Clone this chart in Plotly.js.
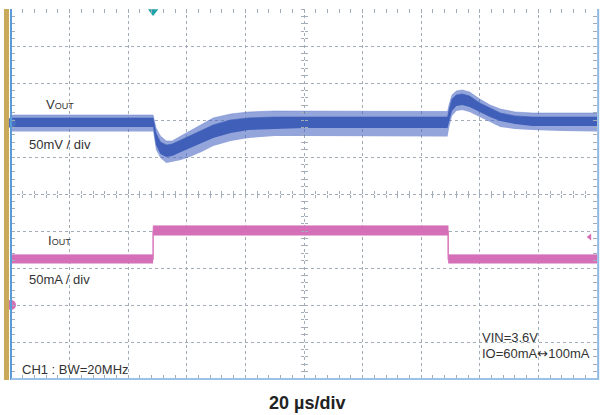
<!DOCTYPE html>
<html><head><meta charset="utf-8">
<script src="https://cdn.plot.ly/plotly-3.0.1.min.js"></script>
<style>html,body{margin:0;padding:0;background:#fff}#chart{width:601px;height:415px}</style>
</head><body><div id="chart"></div>
<script>
// ---- data ----
// time axis: 20 us/div, 10 divisions
const vTime = [0,48.5,49.5,51,53,55,58,61,65,69,75,81,90,100,120,140,149,149.5,150.5,152,154,156.5,160,163.5,167,172,178,188,200];
// VOUT (AC, mV relative to channel-1 marker), envelope of the ripple band
const vOuterTop    = [10.8,10.8,-6.8,-17.6,-24.3,-24.3,-17.6,-10.8,-1.4,6.8,12.2,14.9,16.2,16.2,16.2,15.5,15.5,24.3,37.8,43.2,44.6,41.9,32.4,24.3,18.9,14.9,13.5,13.5,13.5];
const vOuterBottom = [-11.5,-11.5,-36.5,-47.3,-54.1,-52.7,-50.0,-45.9,-39.2,-31.1,-24.3,-20.3,-17.6,-17.6,-17.6,-18.2,-18.2,-6.8,9.5,16.2,17.6,14.9,8.1,1.4,-5.4,-8.1,-9.5,-10.8,-11.5];
const vCoreTop     = [6.8,6.8,-13.5,-25.7,-29.7,-28.4,-23.0,-17.6,-9.5,-2.7,4.1,6.8,8.1,8.1,8.1,8.1,8.1,17.6,32.4,37.8,39.2,36.5,27.0,20.3,13.5,9.5,8.1,8.1,8.1];
const vCoreBottom  = [-5.4,-5.4,-29.7,-41.9,-45.9,-44.6,-39.2,-33.8,-27.0,-20.3,-13.5,-9.5,-8.1,-6.8,-6.8,-6.8,-6.8,1.4,16.2,23.0,24.3,21.6,14.9,8.1,2.7,-1.4,-4.1,-4.1,-4.1];
// IOUT (mA)
const iTime  = [0,48.5,48.5,149.2,149.2,200];
const iUpper = [68,68,107,107,68,68];
const iLower = [56,56,94,94,56,56];
const iMid   = [62,62,100,100,62,62];
// markers
const ch1Ground = [0];      // mV
const ch2Ground = [0];      // mA
const triggerTime = [48.5]; // us
const triggerLevel = [92];  // mA

// ---- scales ----
const V_PER_DIV = 50, I_PER_DIV = 50;
const V_OFFSET_DIV = 1.92, I_OFFSET_DIV = -3.0;
const vRange = [(-5 - V_OFFSET_DIV) * V_PER_DIV, (5 - V_OFFSET_DIV) * V_PER_DIV];
const iRange = [(-5 - I_OFFSET_DIV) * I_PER_DIV, (5 - I_OFFSET_DIV) * I_PER_DIV];

const VBLUE = '#3f5fb8', VLIGHT = 'rgba(75,105,195,0.6)', PINK = '#d46fb8';
const GRID = '#a3adba';

const traces = [
  {x: vTime, y: vOuterBottom, yaxis: 'y2', mode: 'lines', line: {width: 0, color: VLIGHT}, hoverinfo: 'skip'},
  {x: vTime, y: vOuterTop, yaxis: 'y2', mode: 'lines', line: {width: 0.6, color: VLIGHT}, fill: 'tonexty', fillcolor: VLIGHT, hoverinfo: 'skip'},
  {x: vTime, y: vCoreBottom, yaxis: 'y2', mode: 'lines', line: {width: 0, color: VBLUE}, hoverinfo: 'skip'},
  {x: vTime, y: vCoreTop, yaxis: 'y2', mode: 'lines', line: {width: 0.6, color: VBLUE}, fill: 'tonexty', fillcolor: VBLUE, hoverinfo: 'skip'},
  {x: iTime, y: iLower, yaxis: 'y3', mode: 'lines', line: {width: 0, color: PINK}, hoverinfo: 'skip'},
  {x: iTime, y: iUpper, yaxis: 'y3', mode: 'lines', line: {width: 0.6, color: PINK}, fill: 'tonexty', fillcolor: PINK, hoverinfo: 'skip'},
  {x: iTime, y: iMid, yaxis: 'y3', mode: 'lines', line: {width: 1.2, color: PINK}, hoverinfo: 'skip'},
  {x: [0], y: ch1Ground, yaxis: 'y2', mode: 'markers', cliponaxis: false, marker: {symbol: 'circle', size: 10, color: '#4a70c4'}},
  {x: [0], y: ch2Ground, yaxis: 'y3', mode: 'markers', cliponaxis: false, marker: {symbol: 'circle', size: 10, color: PINK}},
  {x: [197.5], y: triggerLevel, yaxis: 'y3', mode: 'markers', cliponaxis: false, marker: {symbol: 'triangle-left', size: 6, color: PINK}},
  {x: triggerTime, y: [4.93], yaxis: 'y', mode: 'markers', cliponaxis: false, marker: {symbol: 'triangle-down', size: 9, color: '#1fa3a8'}},
  // empty traces to register centre-cross tick axes
  {x: [], y: [], xaxis: 'x2', yaxis: 'y', mode: 'lines'},
  {x: [], y: [], xaxis: 'x3', yaxis: 'y', mode: 'lines'},
  {x: [], y: [], xaxis: 'x', yaxis: 'y4', mode: 'lines'},
  {x: [], y: [], xaxis: 'x', yaxis: 'y5', mode: 'lines'}
];

const tickAx = (extra) => Object.assign({showgrid: false, zeroline: false, showticklabels: false, showline: false, tickcolor: GRID, ticklen: 3}, extra);

const textFont = {family: 'Liberation Sans, Arial, sans-serif', size: 13, color: '#333333'};
const ann = (text, x, y, extra) => Object.assign({text, x, y, xref: 'paper', yref: 'paper', xanchor: 'left', yanchor: 'middle', showarrow: false, font: textFont}, extra || {});

const layout = {
  width: 601, height: 415,
  margin: {l: 11, r: 4, t: 9, b: 36},
  paper_bgcolor: '#ffffff', plot_bgcolor: '#ffffff',
  showlegend: false,
  xaxis: {range: [0, 200], tick0: 0, dtick: 20, showgrid: true, gridcolor: GRID, griddash: 'dot', gridwidth: 1,
          zeroline: false, showticklabels: false, showline: false, ticks: 'inside', ticklen: 4, tickcolor: GRID, mirror: 'ticks',
          minor: {dtick: 4, ticks: 'inside', ticklen: 4, tickcolor: GRID, showgrid: false}},
  yaxis: {range: [-5, 5], tick0: 0, dtick: 1, showgrid: true, gridcolor: GRID, griddash: 'dot', gridwidth: 1,
          zeroline: false, showticklabels: false, showline: false, ticks: 'inside', ticklen: 4, tickcolor: GRID, mirror: 'ticks',
          minor: {dtick: 0.2, ticks: 'inside', ticklen: 4, tickcolor: GRID, showgrid: false}},
  yaxis2: {overlaying: 'y', range: vRange, visible: false},
  yaxis3: {overlaying: 'y', range: iRange, visible: false},
  xaxis2: tickAx({overlaying: 'x', anchor: 'free', position: 0.5, range: [0, 200], dtick: 4, ticks: 'outside'}),
  xaxis3: tickAx({overlaying: 'x', anchor: 'free', position: 0.5, range: [0, 200], dtick: 4, ticks: 'inside'}),
  yaxis4: tickAx({overlaying: 'y', anchor: 'free', position: 0.5, range: [-5, 5], dtick: 0.2, ticks: 'outside'}),
  yaxis5: tickAx({overlaying: 'y', anchor: 'free', position: 0.5, range: [-5, 5], dtick: 0.2, ticks: 'inside'}),
  shapes: [
    {type: 'rect', xref: 'paper', yref: 'paper', x0: -0.012, x1: -0.0034, y0: -0.003, y1: 1, fillcolor: '#c9a95c', line: {width: 0}},
    {type: 'line', xref: 'paper', yref: 'paper', x0: 0, x1: 0, y0: -0.003, y1: 1, line: {color: '#5b9bd5', width: 2}},
    {type: 'line', xref: 'paper', yref: 'paper', x0: 1.002, x1: 1.002, y0: -0.003, y1: 1, line: {color: '#8fb8e2', width: 2}},
    {type: 'line', xref: 'paper', yref: 'paper', x0: 0, x1: 1.002, y0: 0, y1: 0, line: {color: '#9cc2e8', width: 2}}
  ],
  annotations: [
    ann("V<span style='font-size:9px'>OUT</span>", 0.056, 0.742),
    ann('50mV / div', 0.027, 0.635),
    ann("I<span style='font-size:9px'>OUT</span>", 0.060, 0.373),
    ann('50mA / div', 0.027, 0.270),
    ann('VIN=3.6V', 0.800, 0.112),
    ann("IO=60mA<span style='font-family:DejaVu Sans;font-size:13px'>\u2194</span>100mA", 0.800, 0.068),
    ann('CH1 : BW=20MHz', 0.0154, 0.026),
    ann('20 \u00b5s/div', 0.505, -0.065, {xanchor: 'center', font: {family: 'Liberation Sans, Arial, sans-serif', size: 18, color: '#222222', weight: 'bold'}})
  ]
};

Plotly.newPlot('chart', traces, layout, {staticPlot: true, displayModeBar: false});
</script>
</body></html>
